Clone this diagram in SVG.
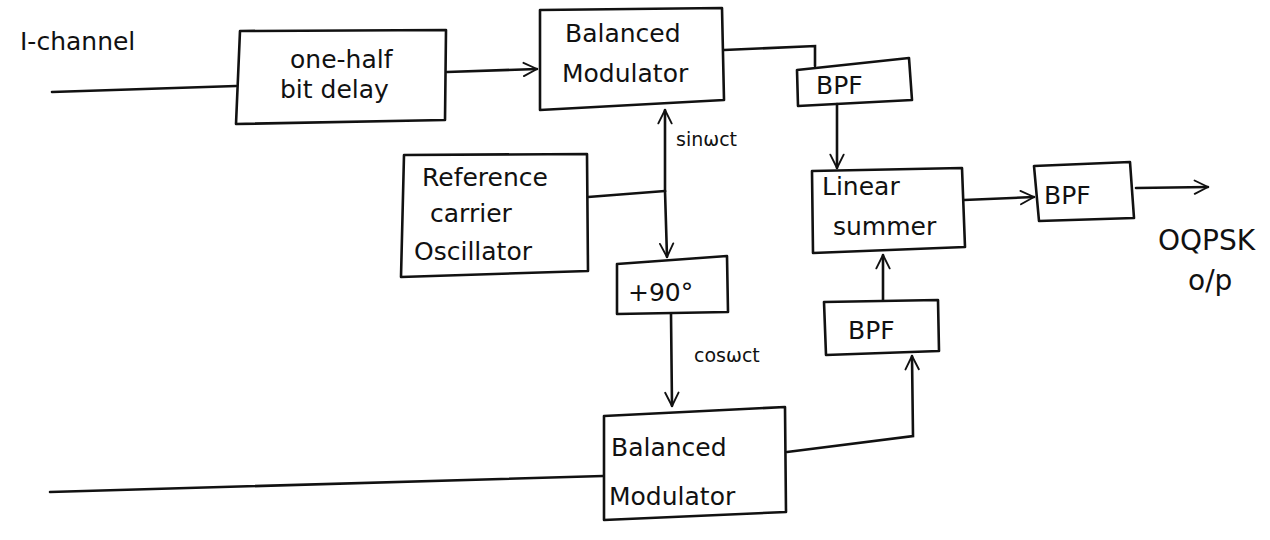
<svg xmlns="http://www.w3.org/2000/svg" width="1270" height="540" viewBox="0 0 1270 540">
  <style>
    .box { fill: none; stroke: #111; stroke-width: 2.6; stroke-linejoin: round; }
    .wire { fill: none; stroke: #111; stroke-width: 2.6; stroke-linecap: round; }
    text { font-family: "DejaVu Sans", "Liberation Sans", sans-serif; fill: #111; font-size: 25px; }
    .lbl { font-size: 19px; }
    .big { font-size: 28px; }
  </style>
  <defs>
    <!-- open V arrowhead -->
    <marker id="arr" viewBox="0 0 12 12" refX="11" refY="6" markerWidth="16" markerHeight="16" markerUnits="userSpaceOnUse" orient="auto">
      <path d="M1,1 L11,6 L1,11" fill="none" stroke="#111" stroke-width="1.4" stroke-linecap="round" stroke-linejoin="round"/>
    </marker>
  </defs>
  <rect width="1270" height="540" fill="#ffffff"/>

  <!-- free labels -->
  <text x="20" y="50">I-channel</text>
  <text class="big" x="1158" y="250">OQPSK</text>
  <text class="big" x="1188" y="290">o/p</text>

  <!-- connectors -->
  <g id="connectors">
    <path class="wire" d="M52,92 L236,86"/>
    <path class="wire" d="M447,72 L537,69" marker-end="url(#arr)"/>
    <path class="wire" d="M724,50 L815,46 L815,66"/>
    <path class="wire" d="M837,104 L837,168" marker-end="url(#arr)"/>
    <path class="wire" d="M964,200 L1034,197" marker-end="url(#arr)"/>
    <path class="wire" d="M1136,188 L1208,187" marker-end="url(#arr)"/>
    <path class="wire" d="M883,300 L883,255" marker-end="url(#arr)"/>
    <path class="wire" d="M588,197 L665,191"/>
    <path class="wire" d="M665,191 L665,110" marker-end="url(#arr)"/>
    <path class="wire" d="M665,191 L667,257" marker-end="url(#arr)"/>
    <path class="wire" d="M671,314 L672,406" marker-end="url(#arr)"/>
    <path class="wire" d="M787,452 L913,436 L912,356" marker-end="url(#arr)"/>
    <path class="wire" d="M50,492 L603,476"/>
    <text class="lbl" x="676" y="146">sinωct</text>
    <text class="lbl" x="694" y="362">cosωct</text>
  </g>

  <g id="half-bit-delay">
    <path class="box" d="M240,31 L446,30 L445,120 L236,124 Z"/>
    <text x="290" y="68">one-half</text>
    <text x="280" y="98">bit delay</text>
  </g>

  <g id="balanced-modulator-i">
    <path class="box" d="M540,10 L722,8 L724,100 L540,110 Z"/>
    <text x="565" y="42">Balanced</text>
    <text x="562" y="82">Modulator</text>
  </g>

  <g id="bpf-i">
    <path class="box" d="M797,70 L909,58 L912,100 L798,106 Z"/>
    <text x="816" y="94">BPF</text>
  </g>

  <g id="reference-oscillator">
    <path class="box" d="M404,155 L587,154 L588,271 L401,277 Z"/>
    <text x="422" y="186">Reference</text>
    <text x="430" y="222">carrier</text>
    <text x="414" y="260">Oscillator</text>
  </g>

  <g id="phase-shift">
    <path class="box" d="M617,264 L727,256 L728,312 L617,314 Z"/>
    <text x="628" y="301">+90°</text>
  </g>

  <g id="linear-summer">
    <path class="box" d="M812,171 L962,168 L965,247 L813,253 Z"/>
    <text x="822" y="195">Linear</text>
    <text x="833" y="235">summer</text>
  </g>

  <g id="bpf-out">
    <path class="box" d="M1034,166 L1130,162 L1134,218 L1039,221 Z"/>
    <text x="1044" y="204">BPF</text>
  </g>

  <g id="bpf-q">
    <path class="box" d="M824,302 L938,300 L939,351 L826,355 Z"/>
    <text x="848" y="339">BPF</text>
  </g>

  <g id="balanced-modulator-q">
    <path class="box" d="M604,416 L785,407 L786,512 L604,520 Z"/>
    <text x="611" y="456">Balanced</text>
    <text x="609" y="505">Modulator</text>
  </g>
</svg>
